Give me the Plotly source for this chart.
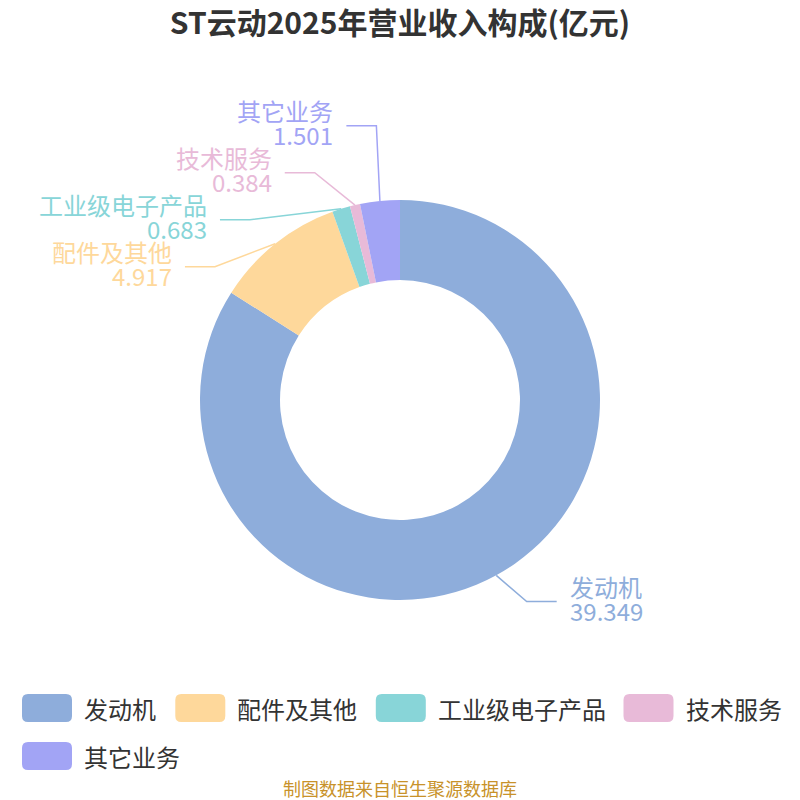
import math
import plotly.graph_objects as go

# data
categories = ['发动机', '配件及其他', '工业级电子产品', '技术服务', '其它业务']
values = [39.349, 4.917, 0.683, 0.384, 1.501]
colors = ['#8eaddb', '#fed89b', '#88d5d8', '#e8bad8', '#a2a4f5']

title = 'ST云动2025年营业收入构成(亿元)'
source = '制图数据来自恒生聚源数据库'

W = H = 800
CX, CY = 400, 400
R_OUT = 200
FONT = 'Noto Sans CJK SC'


def px(x, y):
    # pixel -> paper
    return x / W, 1 - y / H


fig = go.Figure()
fig.add_trace(go.Pie(
    labels=categories, values=values, hole=0.6, sort=False,
    direction='clockwise', rotation=0,
    marker=dict(colors=colors, line=dict(width=0)),
    textinfo='none', showlegend=False,
    domain=dict(x=[0.25, 0.75], y=[0.25, 0.75]),
))

# ---- outside labels with leader lines (echarts-like layout)
LEN1, LEN2, GAP_TXT = 35, 30, 11
ROW = 47
RA, RB = 220, 246.6
LBL = 24

total = sum(values)
items = []
acc = 0
for i, v in enumerate(values):
    th = 2 * math.pi * (acc + v / 2) / total
    acc += v
    side = 1 if math.sin(th) >= 0 else -1
    items.append(dict(i=i, th=th, side=side,
                      y=CY - (R_OUT + 20) * math.cos(th)))

shapes = []
annotations = []
for side in (1, -1):
    grp = sorted([it for it in items if it['side'] == side], key=lambda d: d['y'])
    # merge overlapping labels into blocks
    blocks = [[it] for it in grp]
    changed = True
    while changed:
        changed = False
        for b in blocks:
            m = sum(it['y'] for it in b) / len(b)
            for k, it in enumerate(b):
                it['ly'] = m + (k - (len(b) - 1) / 2) * ROW
        for j in range(len(blocks) - 1):
            if blocks[j + 1][0]['ly'] - blocks[j][-1]['ly'] < ROW:
                blocks[j] = blocks[j] + blocks[j + 1]
                del blocks[j + 1]
                changed = True
                break
    for b in blocks:
        for it in b:
            th = it['th']
            sx, sy = CX + R_OUT * math.sin(th), CY - R_OUT * math.cos(th)
            ey = CY - (R_OUT + 30) * math.cos(th) if len(b) == 1 else it['ly']
            dy = abs(ey - CY)
            if dy < RB:
                ex = CX + side * RA * math.sqrt(1 - dy * dy / RB / RB)
            else:
                ex = CX + (R_OUT + LEN1) * math.sin(th)
            tx = ex + side * LEN2
            c = colors[it['i']]
            pts = [px(sx, sy), px(ex, ey), px(tx, ey)]
            path = 'M{},{} L{},{} L{},{}'.format(*[v for p in pts for v in p])
            shapes.append(dict(type='path', xref='paper', yref='paper', path=path,
                               line=dict(color=c, width=1.5)))
            ax, _ = px(tx + side * GAP_TXT, 0)
            anchor = 'left' if side == 1 else 'right'
            annotations.append(dict(x=ax, y=px(0, ey - 15)[1], xref='paper', yref='paper',
                                    text=categories[it['i']], showarrow=False,
                                    xanchor=anchor, yanchor='middle',
                                    font=dict(family=FONT, size=LBL, color=c)))
            annotations.append(dict(x=ax, y=px(0, ey + 9)[1], xref='paper', yref='paper',
                                    text=f'{values[it["i"]]:.3f}', showarrow=False,
                                    xanchor=anchor, yanchor='middle',
                                    font=dict(family=FONT, size=LBL, color=c)))

# ---- legend drawn with rounded swatches
LX0, LY0, SW, SH, SR = 22, 694, 50, 28, 6
LFONT = 24
x, y = LX0, LY0
for name, c in zip(categories, colors):
    w = SW + 11 + len(name) * 23.6
    if x + w > W - 10:
        x, y = LX0, y + 48
    x0, y0, x1, y1 = x, y, x + SW, y + SH
    p = [(x0 + SR, y0), (x1 - SR, y0), (x1, y0 + SR), (x1, y1 - SR),
         (x1 - SR, y1), (x0 + SR, y1), (x0, y1 - SR), (x0, y0 + SR)]
    q = [px(*pt) for pt in p]
    path = ('M{},{} L{},{} Q{},{} {},{} L{},{} Q{},{} {},{} L{},{} Q{},{} {},{} L{},{} Q{},{} {},{} Z'
            .format(q[0][0], q[0][1], q[1][0], q[1][1],
                    px(x1, y0)[0], px(x1, y0)[1], q[2][0], q[2][1],
                    q[3][0], q[3][1], px(x1, y1)[0], px(x1, y1)[1], q[4][0], q[4][1],
                    q[5][0], q[5][1], px(x0, y1)[0], px(x0, y1)[1], q[6][0], q[6][1],
                    q[7][0], q[7][1], px(x0, y0)[0], px(x0, y0)[1], q[0][0], q[0][1]))
    shapes.append(dict(type='path', xref='paper', yref='paper', path=path,
                       fillcolor=c, line=dict(width=0)))
    annotations.append(dict(x=px(x1 + 10, 0)[0], y=px(0, y + SH / 2)[1], xref='paper', yref='paper',
                            text=name, showarrow=False, xanchor='left', yanchor='middle',
                            font=dict(family=FONT, size=LFONT, color='#333333')))
    x += w + 21.5

annotations.append(dict(x=0.5, y=px(0, 788)[1], xref='paper', yref='paper', text=source,
                        showarrow=False, xanchor='center', yanchor='middle',
                        font=dict(family=FONT, size=18, color='#c8922a')))

fig.update_layout(
    width=W, height=H,
    margin=dict(l=0, r=0, t=0, b=0),
    paper_bgcolor='white', plot_bgcolor='white',
    title=dict(text='<b>' + title + '</b>', x=0.5, xanchor='center', y=px(0, 23)[1],
               yanchor='middle', font=dict(family=FONT, size=30, color='#333333')),
    shapes=shapes, annotations=annotations,
)

# page body has a default margin; drop it so the figure fills the window
fig.write_html('out.html', config={'displayModeBar': False},
               post_script="document.body.style.margin='0';")
